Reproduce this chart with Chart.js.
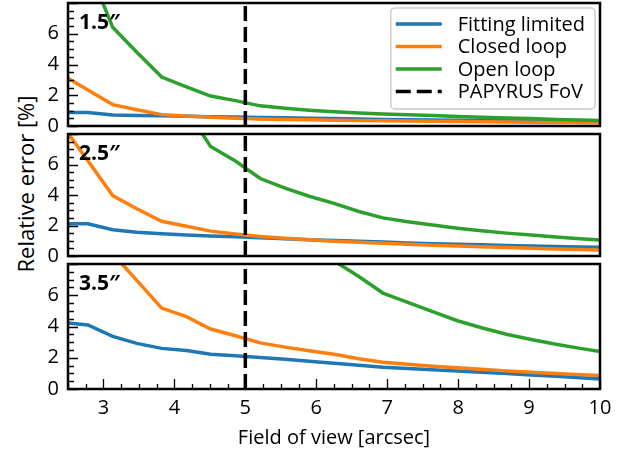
<!DOCTYPE html>
<html>
<head>
<meta charset="utf-8">
<script src="https://cdn.jsdelivr.net/npm/chart.js@4.4.1/dist/chart.umd.min.js"></script>
<style>
  body{margin:0;background:#fff;}
  #wrap{position:relative;width:633px;height:452px;overflow:hidden;background:#fff;font-family:"Open Sans",sans-serif;}
  #wrap canvas{position:absolute;left:0;}
  #ylab{position:absolute;left:25px;top:184px;transform:translate(-50%,-50%) rotate(-90deg);font-size:22px;white-space:nowrap;color:#000;}
</style>
</head>
<body>
<div id="wrap"><div id="ylab">Relative error [%]</div></div>
<script>
// field of view grid [arcsec]
const fov = [2.43, 2.78, 3.13, 3.47, 3.82, 4.17, 4.51, 4.86, 5.21, 5.56, 5.9, 6.25,
             6.6, 6.94, 7.29, 7.64, 7.99, 8.33, 8.68, 9.03, 9.38, 9.72, 10.07];
const seeing = ['1.5″', '2.5″', '3.5″'];
const seriesNames = ['Fitting limited', 'Closed loop', 'Open loop'];
const papyrusName = 'PAPYRUS FoV';
const papyrusFov = 5;
const xTickValues = [3, 4, 5, 6, 7, 8, 9, 10];
const yTickValues = [0, 2, 4, 6];

// relative error [%], seeing 1.5"
const fit15    = [0.88, 0.88, 0.72, 0.69, 0.66, 0.63, 0.6, 0.58, 0.56, 0.53, 0.5, 0.48, 0.46, 0.43, 0.41, 0.39, 0.37, 0.36, 0.34, 0.33, 0.32, 0.3, 0.29];
const closed15 = [3.29, 2.34, 1.39, 1.06, 0.74, 0.65, 0.57, 0.5, 0.46, 0.43, 0.4, 0.38, 0.36, 0.34, 0.32, 0.31, 0.29, 0.28, 0.26, 0.25, 0.23, 0.22, 0.2];
const open15   = [14, 10.4, 6.42, 4.8, 3.18, 2.55, 1.95, 1.65, 1.31, 1.15, 1.02, 0.92, 0.84, 0.78, 0.73, 0.68, 0.62, 0.57, 0.52, 0.48, 0.43, 0.39, 0.35];
// seeing 2.5"
const fit25    = [2.11, 2.11, 1.72, 1.55, 1.46, 1.38, 1.31, 1.27, 1.2, 1.13, 1.07, 1.01, 0.96, 0.91, 0.86, 0.81, 0.77, 0.73, 0.69, 0.66, 0.62, 0.59, 0.56];
const closed25 = [8.5, 6.24, 3.96, 3.1, 2.28, 1.95, 1.63, 1.45, 1.28, 1.17, 1.06, 0.97, 0.9, 0.83, 0.77, 0.71, 0.65, 0.6, 0.55, 0.51, 0.46, 0.42, 0.38];
const open25   = [null, null, null, null, null, 9.6, 7.18, 6.23, 5.08, 4.45, 3.92, 3.45, 2.92, 2.5, 2.25, 2.03, 1.82, 1.65, 1.5, 1.37, 1.25, 1.13, 1.02];
// seeing 3.5"
const fit35    = [4.25, 4.1, 3.37, 2.92, 2.6, 2.46, 2.22, 2.13, 2.01, 1.9, 1.77, 1.65, 1.52, 1.39, 1.31, 1.23, 1.15, 1.07, 0.99, 0.9, 0.81, 0.72, 0.63];
const closed35 = [null, 10.4, 8.65, 6.95, 5.18, 4.63, 3.84, 3.41, 2.95, 2.68, 2.45, 2.22, 1.93, 1.71, 1.58, 1.46, 1.36, 1.26, 1.16, 1.07, 0.99, 0.92, 0.85];
const open35   = [null, null, null, null, null, null, null, null, null, null, null, 8.2, 7.2, 6.14, 5.55, 4.95, 4.37, 3.92, 3.5, 3.17, 2.87, 2.6, 2.35];

const panelData = [[fit15, closed15, open15], [fit25, closed25, open25], [fit35, closed35, open35]];

const colors = ['#1f77b4', '#ff7f0e', '#2ca02c'];
const FONT = '"Open Sans", sans-serif';
const YMAX = 8, LW = 3.5, DASH = [15, 6];
// page boxes of each plot area (top, bottom)
const boxes = [[2, 127], [133, 257], [263, 389]];
const MARGIN = 20;

const axesPlugin = {
  id: 'axesDeco',
  afterDatasetsDraw(chart, args, o){
    const {ctx, chartArea: a, scales: {x, y}} = chart;
    ctx.save();
    ctx.strokeStyle = '#000';
    ctx.lineWidth = 1.3;
    ctx.beginPath();
    for (let v = 0; v <= YMAX; v += 0.5){
      const py = Math.round(y.getPixelForValue(v)) + 0.5;
      const len = (v % 2 === 0) ? 10 : 6;
      ctx.moveTo(a.left, py); ctx.lineTo(a.left + len, py);
    }
    if (o.xTicks){
      for (let v = 2.5; v <= 10; v += 0.25){
        const px = Math.round(x.getPixelForValue(v)) + 0.5;
        const len = Number.isInteger(v) ? 10 : 5;
        ctx.moveTo(px, a.bottom); ctx.lineTo(px, a.bottom - len);
      }
    }
    ctx.stroke();
    ctx.lineWidth = 2.5;
    ctx.strokeRect(a.left, a.top, a.right - a.left, a.bottom - a.top);
    ctx.fillStyle = '#000';
    ctx.font = 'bold 21px ' + FONT;
    ctx.textBaseline = 'middle';
    ctx.textAlign = 'left';
    ctx.fillText(o.label, a.left + 11, a.top + 20);

    if (o.legend){
      const items = chart.data.datasets;
      ctx.font = '20px ' + FONT;
      const tw = Math.max(...items.map(d => ctx.measureText(d.label).width));
      const w = 67 + tw + 10, h = 101;
      const bx = a.right - 5 - w, by = a.top + 5;
      ctx.beginPath();
      ctx.roundRect(bx, by, w, h, 4);
      ctx.fillStyle = 'rgba(255,255,255,0.85)';
      ctx.fill();
      ctx.strokeStyle = '#cccccc';
      ctx.lineWidth = 1.5;
      ctx.stroke();
      items.forEach((d, i) => {
        const cy = by + 16 + i * 22.5;
        ctx.beginPath();
        ctx.strokeStyle = d.borderColor;
        ctx.lineWidth = LW;
        ctx.setLineDash(d.borderDash || []);
        ctx.moveTo(bx + 5, cy); ctx.lineTo(bx + 51, cy);
        ctx.stroke();
        ctx.setLineDash([]);
        ctx.fillStyle = '#000';
        ctx.fillText(d.label, bx + 67, cy + 1);
      });
    }
    ctx.restore();
  }
};

function build(){
  const wrap = document.getElementById('wrap');
  boxes.forEach(([top, bottom], p) => {
    const last = p === boxes.length - 1;
    const cTop = top - MARGIN;
    const height = last ? 452 - cTop : (bottom - top) + 2 * MARGIN;
    const xAxisH = 452 - bottom;
    const cv = document.createElement('canvas');
    cv.width = 633; cv.height = height;
    cv.style.top = cTop + 'px';
    wrap.appendChild(cv);

    const datasets = seriesNames.map((name, s) => ({
      label: name,
      data: fov.map((f, i) => ({x: f, y: panelData[p][s][i]})),
      borderColor: colors[s],
      borderWidth: LW,
      order: 4 - s
    }));
    datasets.push({
      label: papyrusName,
      data: [{x: papyrusFov, y: 0}, {x: papyrusFov, y: YMAX}],
      borderColor: '#000',
      borderWidth: LW,
      borderDash: DASH,
      order: 0
    });
    datasets.forEach(d => { d.pointRadius = 0; d.tension = 0; d.clip = 0; d.spanGaps = false; d.fill = false; });

    new Chart(cv, {
      type: 'line',
      data: {datasets},
      options: {
        responsive: false,
        animation: false,
        devicePixelRatio: 1,
        events: [],
        layout: {padding: {left: 0, right: 33, top: MARGIN, bottom: last ? 0 : MARGIN}},
        plugins: {
          legend: {display: false},
          tooltip: {enabled: false},
          axesDeco: {label: seeing[p], legend: p === 0, xTicks: last}
        },
        scales: {
          x: {
            type: 'linear', min: 2.5, max: 10,
            display: last,
            afterFit: s => { if (last) s.height = xAxisH; },
            grid: {display: false, drawTicks: false},
            border: {display: false},
            afterBuildTicks: s => { s.ticks = xTickValues.map(v => ({value: v})); },
            ticks: {color: '#000', padding: 7, maxRotation: 0, font: {family: FONT, size: 20}},
            title: {display: true, text: 'Field of view [arcsec]', color: '#000',
                    font: {family: FONT, size: 20}, padding: {top: 0, bottom: 2}}
          },
          y: {
            type: 'linear', min: 0, max: YMAX,
            afterFit: s => { s.width = 68; },
            grid: {display: false, drawTicks: false},
            border: {display: false},
            afterBuildTicks: s => { s.ticks = yTickValues.map(v => ({value: v})); },
            ticks: {color: '#000', padding: 9, font: {family: FONT, size: 20}}
          }
        }
      },
      plugins: [axesPlugin]
    });
  });
}

document.fonts.load('20px "Open Sans"').then(() => document.fonts.load('bold 20px "Open Sans"')).then(build, build);
</script>
</body>
</html>
